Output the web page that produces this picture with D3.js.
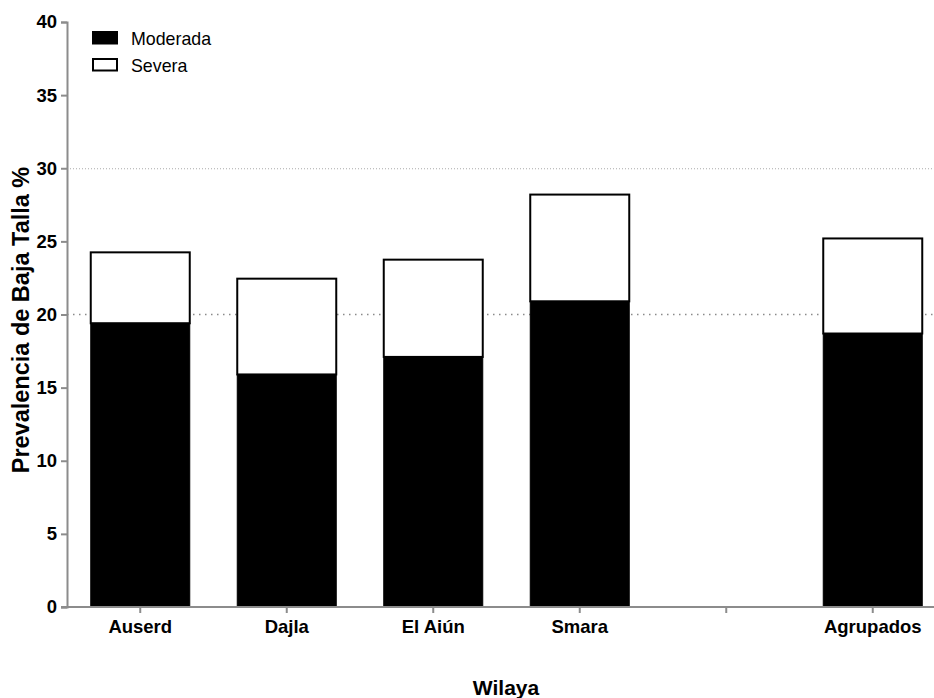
<!DOCTYPE html>
<html>
<head>
<meta charset="utf-8">
<script src="https://cdn.jsdelivr.net/npm/d3@7"></script>
<style>
  html, body { margin: 0; padding: 0; background: #fff; }
  svg { display: block; }
  text { font-family: "Liberation Sans", Arial, sans-serif; }
</style>
</head>
<body>
<svg id="chart" width="934" height="698"></svg>
<script>
const categories = ["Auserd", "Dajla", "El Aiún", "Smara", "", "Agrupados"];
const moderada = [19.4, 15.9, 17.1, 20.9, null, 18.7];
const severa   = [4.85, 6.55, 6.65, 7.3, null, 6.5];
const yTicks = [0, 5, 10, 15, 20, 25, 30, 35, 40];
const seriesNames = ["Moderada", "Severa"];

const svg = d3.select("#chart");
const mLeft = 67, mRight = 946, mTop = 22, mBottom = 607;

const xPoint = d3.scaleBand().domain(d3.range(categories.length)).range([mLeft, mRight]);
const y = d3.scaleLinear().domain([0, 40]).range([mBottom, mTop]);

// gridlines
svg.append("line")
  .attr("x1", mLeft).attr("x2", 934).attr("y1", y(20)).attr("y2", y(20))
  .attr("stroke", "#8a8a8a").attr("stroke-width", 1.5).attr("stroke-dasharray", "1.5,4.5");
svg.append("line")
  .attr("x1", mLeft).attr("x2", 934).attr("y1", y(30) + 0.5).attr("y2", y(30) + 0.5)
  .attr("stroke", "#aaaaaa").attr("stroke-width", 1).attr("stroke-dasharray", "1,2");

// bars
const data = categories.map((c, i) => ({ i, c, m: moderada[i], s: severa[i] })).filter(d => d.m !== null);
const bw = 99;
const cx = i => xPoint(i) + xPoint.bandwidth() / 2;

svg.selectAll("rect.sev").data(data).enter().append("rect")
  .attr("x", d => cx(d.i) - bw / 2)
  .attr("y", d => y(d.m + d.s))
  .attr("width", bw)
  .attr("height", d => y(d.m) - y(d.m + d.s))
  .attr("fill", "#fff").attr("stroke", "#000").attr("stroke-width", 2);

svg.selectAll("rect.mod").data(data).enter().append("rect")
  .attr("x", d => cx(d.i) - bw / 2)
  .attr("y", d => y(d.m))
  .attr("width", bw)
  .attr("height", d => y(0) - y(d.m))
  .attr("fill", "#000").attr("stroke", "#000").attr("stroke-width", 1);

// y axis
const yAxis = d3.axisLeft(y).tickValues(yTicks).tickSize(6).tickPadding(4);
const gy = svg.append("g").attr("transform", `translate(${mLeft},0)`).call(yAxis);
gy.select(".domain").attr("stroke", "#8c8c8c").attr("stroke-width", 2);
gy.selectAll(".tick line").attr("stroke", "#8c8c8c").attr("stroke-width", 2);
gy.selectAll(".tick text").attr("font-size", 18.5).attr("font-weight", "bold").attr("fill", "#000")
  .attr("font-family", "Liberation Sans, Arial, sans-serif");

// x axis
const gx = svg.append("g").attr("transform", `translate(0,${mBottom})`);
gx.append("line").attr("x1", mLeft - 6).attr("x2", 934).attr("y1", 0).attr("y2", 0)
  .attr("stroke", "#8c8c8c").attr("stroke-width", 2);
const xt = gx.selectAll("g.tick").data(categories.map((c, i) => ({ c, i }))).enter().append("g")
  .attr("transform", d => `translate(${cx(d.i)},0)`);
xt.append("line").attr("y1", 0).attr("y2", 6).attr("stroke", "#8c8c8c").attr("stroke-width", 2);
xt.append("text").attr("y", 26).attr("text-anchor", "middle")
  .attr("font-size", 18.5).attr("font-weight", "bold").attr("fill", "#000").text(d => d.c);

// axis titles
svg.append("text").attr("x", 506).attr("y", 695).attr("text-anchor", "middle")
  .attr("font-size", 21).attr("font-weight", "bold").text("Wilaya");
svg.append("text").attr("transform", "translate(29,320) rotate(-90)").attr("text-anchor", "middle")
  .attr("font-size", 23.5).attr("font-weight", "bold").text("Prevalencia de Baja Talla %");

// legend
const legend = svg.append("g");
seriesNames.forEach((n, k) => {
  const g = legend.append("g").attr("transform", `translate(93,${32 + k * 27})`);
  g.append("rect").attr("width", 24).attr("height", 11.5)
    .attr("fill", k === 0 ? "#000" : "#fff").attr("stroke", "#000").attr("stroke-width", 2);
  g.append("text").attr("x", 38).attr("y", 12.5).attr("font-size", 17.8).attr("fill", "#000").text(n);
});
</script>
</body>
</html>
